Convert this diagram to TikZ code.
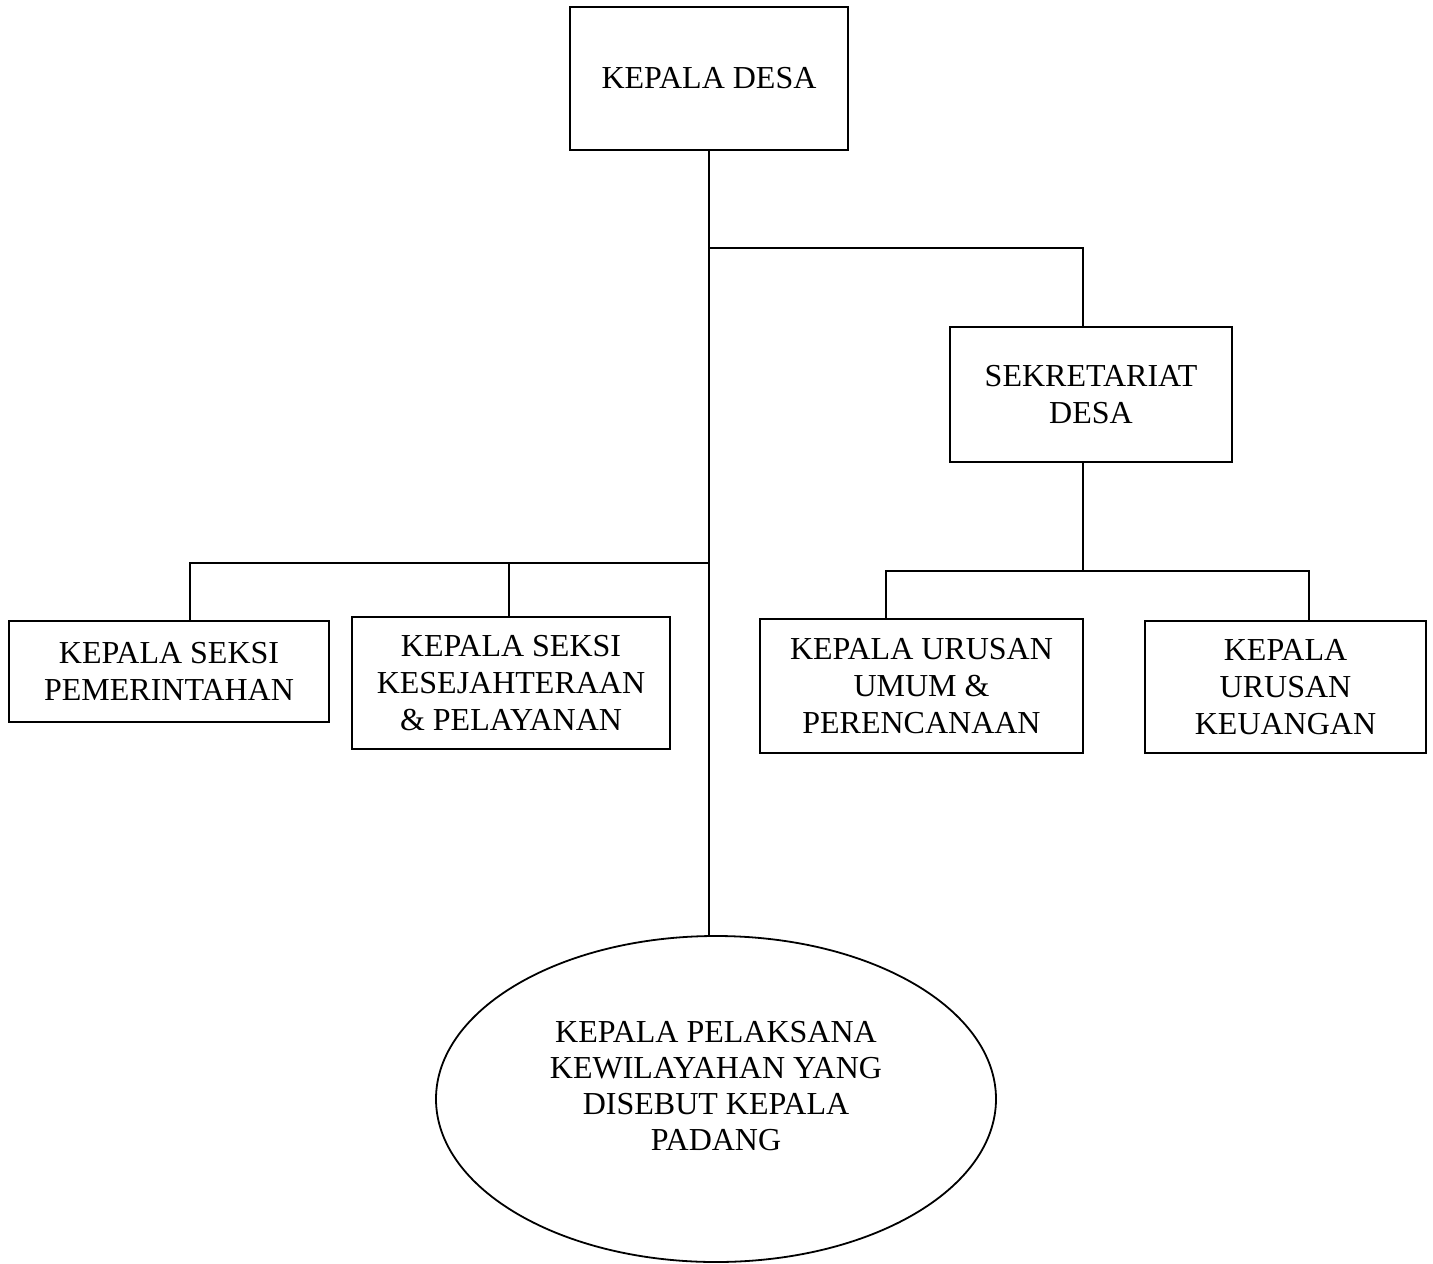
\documentclass[tikz,border=0pt]{standalone}
\usepackage{fontspec}
\setmainfont{Liberation Serif}
\usetikzlibrary{shapes.geometric,calc}
\tikzset{
  box/.style={draw, line width=1.8pt, rectangle, inner sep=0pt, align=center,
    font=\fontsize{32}{37}\selectfont},
  oval/.style={draw, line width=1.8pt, ellipse, inner sep=0pt},
  conn/.style={line width=1.8pt}
}
\begin{document}
\begin{tikzpicture}[x=1pt,y=-1pt]
\useasboundingbox (0,0) rectangle (1433,1264);
\node[box, minimum width=278, minimum height=143] (kd) at (709,78.5) {KEPALA DESA};
\node[box, minimum width=282, minimum height=135] (sek) at (1091,394.5) {SEKRETARIAT\\DESA};
\node[box, minimum width=320, minimum height=101] (ks1) at (169,671.5) {KEPALA SEKSI\\PEMERINTAHAN};
\node[box, minimum width=318, minimum height=132] (ks2) at (511,683) {KEPALA SEKSI\\KESEJAHTERAAN\\\& PELAYANAN};
\node[box, minimum width=323, minimum height=134] (ku1) at (921.5,686) {KEPALA URUSAN\\UMUM \&\\PERENCANAAN};
\node[box, minimum width=281, minimum height=132] (ku2) at (1285.5,687) {KEPALA\\URUSAN\\KEUANGAN};
\node[oval, minimum width=560, minimum height=326,
  label={[align=center, font=\fontsize{32}{36}\selectfont, yshift=13pt]center:{KEPALA PELAKSANA\\KEWILAYAHAN YANG\\DISEBUT KEPALA\\PADANG}}] (kp) at (716,1099) {};
\coordinate (j1) at (709,248);
\coordinate (hl) at (709,563);
\coordinate (hr) at (1083,571);
\draw[conn] (kd.south) -- (kd.south |- kp.north);
\draw[conn] (j1) -| ([xshift=-8pt]sek.north);
\draw[conn] (hl) -| ([xshift=21pt]ks1.north);
\draw[conn] (hl) -| ([xshift=-2pt]ks2.north);
\draw[conn] ([xshift=-8pt]sek.south) -- (hr);
\draw[conn] (hr) -| ([xshift=-35.5pt]ku1.north);
\draw[conn] (hr) -| ([xshift=23.5pt]ku2.north);
\end{tikzpicture}
\end{document}
